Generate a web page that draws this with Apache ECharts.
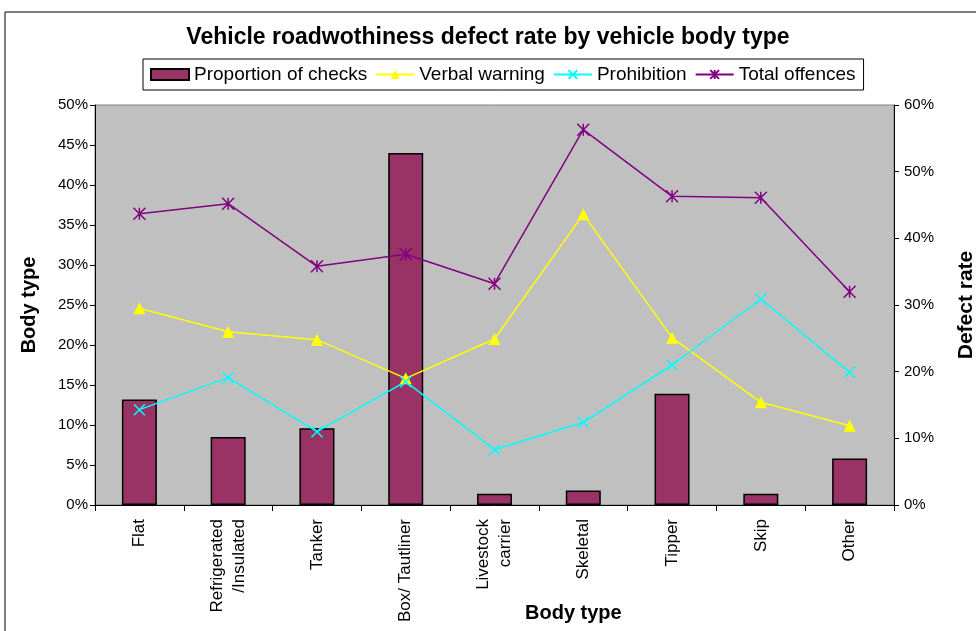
<!DOCTYPE html>
<html>
<head>
<meta charset="utf-8">
<script src="https://cdn.jsdelivr.net/npm/echarts@6/dist/echarts.min.js"></script>
<style>
  html, body { margin: 0; padding: 0; background: #fff; }
  #chart { width: 976px; height: 631px; }
</style>
</head>
<body>
<div id="chart"></div>
<script>
// body types on the x axis
var categories = ["Flat", "Refrigerated\n/Insulated", "Tanker", "Box/ Tautliner",
  "Livestock\ncarrier", "Skeletal", "Tipper", "Skip", "Other"];

// left axis (% of checks)
var proportionOfChecks = [13.2, 8.5, 9.6, 44.0, 1.4, 1.8, 13.9, 1.4, 5.8];

// right axis (defect rate %)
var verbalWarning = [29.5, 26.0, 24.8, 19.0, 24.9, 43.6, 25.1, 15.4, 11.9];
var prohibition = [14.3, 19.1, 11.0, 18.5, 8.3, 12.4, 21.0, 30.9, 19.9];
var totalOffences = [43.7, 45.2, 35.8, 37.6, 33.2, 56.3, 46.3, 46.1, 32.0];

var chart = echarts.init(document.getElementById("chart"));

var font = "Liberation Sans";
var crossPath = "path://M0,0L10,10M10,0L0,10";
var starPath = "path://M0,0L10,10M10,0L0,10M5,0L5,10";

var option = {
  animation: false,
  textStyle: { fontFamily: font, color: "#000" },
  title: {
    text: "Vehicle roadwothiness defect rate by vehicle body type",
    left: "center",
    top: 21,
    textStyle: { fontFamily: font, fontSize: 23, fontWeight: "bold", color: "#000" }
  },
  legend: {
    left: 143,
    top: 59,
    padding: [6, 8, 6, 7],
    borderColor: "#000",
    borderWidth: 1,
    borderRadius: 0,
    backgroundColor: "#fff",
    itemGap: 8,
    itemWidth: 38,
    itemHeight: 11,
    textStyle: { fontFamily: font, fontSize: 19, color: "#000" },
    data: [
      { name: "Proportion of checks", icon: "rect" },
      "Verbal warning",
      "Prohibition",
      "Total offences"
    ]
  },
  graphic: [
    {
      type: "rect",
      shape: { x: 5, y: 12, width: 1000, height: 700 },
      style: { fill: null, stroke: "#000", lineWidth: 1 },
      z: -10
    },
    {
      type: "text",
      left: 525,
      top: 603,
      style: { text: "Body type", font: "bold 20px " + font, fill: "#000" }
    }
  ],
  grid: {
    left: 95,
    right: 82,
    top: 105,
    bottom: 126,
    outerBoundsMode: "none",
    show: true,
    backgroundColor: "#c0c0c0",
    borderColor: "#808080",
    borderWidth: 1
  },
  xAxis: {
    type: "category",
    data: categories,
    axisLine: { lineStyle: { color: "#000", width: 1 } },
    axisTick: { show: true, length: 6, lineStyle: { color: "#000" } },
    axisLabel: {
      rotate: 90,
      interval: 0,
      margin: 14,
      fontSize: 17,
      lineHeight: 22,
      color: "#000",
      fontFamily: font
    }
  },
  yAxis: [
    {
      type: "value",
      min: 0,
      max: 50,
      interval: 5,
      position: "left",
      name: "Body type",
      nameLocation: "middle",
      nameRotate: 90,
      nameGap: 56,
      nameTextStyle: { fontFamily: font, fontSize: 20, fontWeight: "bold", color: "#000" },
      axisLine: { show: true, lineStyle: { color: "#000" } },
      axisTick: { show: true, length: 5, lineStyle: { color: "#000" } },
      splitLine: { show: false },
      axisLabel: { formatter: "{value}%", fontSize: 15, color: "#000", margin: 7, fontFamily: font }
    },
    {
      type: "value",
      min: 0,
      max: 60,
      interval: 10,
      position: "right",
      name: "Defect rate",
      nameLocation: "middle",
      nameRotate: 90,
      nameGap: 62,
      nameTextStyle: { fontFamily: font, fontSize: 21, fontWeight: "bold", color: "#000" },
      axisLine: { show: true, lineStyle: { color: "#000" } },
      axisTick: { show: true, length: 5, lineStyle: { color: "#000" } },
      splitLine: { show: false },
      axisLabel: { formatter: "{value}%", fontSize: 15, color: "#000", margin: 10, fontFamily: font }
    }
  ],
  series: [
    {
      name: "Proportion of checks",
      type: "bar",
      yAxisIndex: 0,
      barWidth: 35,
      data: proportionOfChecks,
      itemStyle: { color: "#993366", borderColor: "#000", borderWidth: 1.5 }
    },
    {
      name: "Verbal warning",
      type: "line",
      yAxisIndex: 1,
      data: verbalWarning,
      symbol: "triangle",
      symbolSize: 12,
      lineStyle: { color: "#ffff00", width: 1.5 },
      itemStyle: { color: "#ffff00" }
    },
    {
      name: "Prohibition",
      type: "line",
      yAxisIndex: 1,
      data: prohibition,
      symbol: crossPath,
      symbolSize: 11,
      lineStyle: { color: "#00ffff", width: 1.5 },
      itemStyle: { color: "#00ffff", borderColor: "#00ffff", borderWidth: 1.5 }
    },
    {
      name: "Total offences",
      type: "line",
      yAxisIndex: 1,
      data: totalOffences,
      symbol: starPath,
      symbolSize: 12,
      lineStyle: { color: "#800080", width: 1.5 },
      itemStyle: { color: "#800080", borderColor: "#800080", borderWidth: 1.5 }
    }
  ]
};

chart.setOption(option);
</script>
</body>
</html>
